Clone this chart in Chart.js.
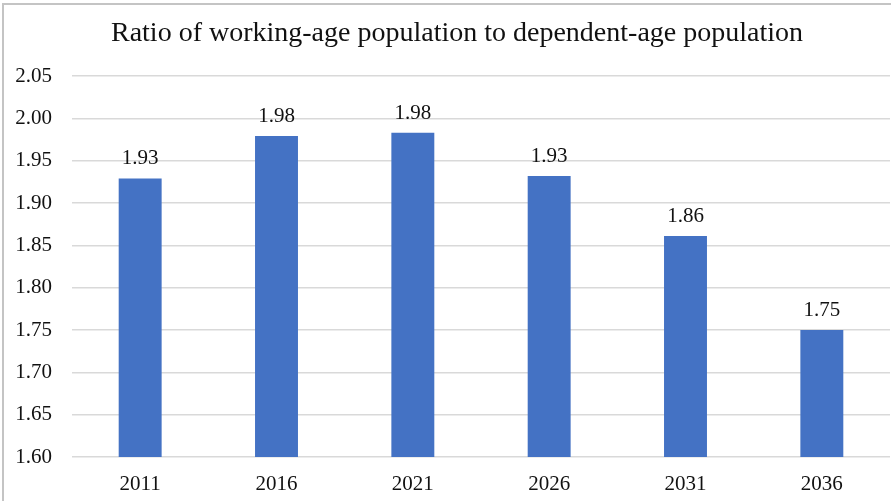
<!DOCTYPE html>
<html>
<head>
<meta charset="utf-8">
<script src="https://cdn.jsdelivr.net/npm/chart.js@4/dist/chart.umd.min.js"></script>
<style>
  html, body { margin: 0; padding: 0; background: #fff; }
  #wrap { width: 891px; height: 501px; position: relative; }
</style>
</head>
<body>
<div id="wrap"><canvas id="c" width="891" height="501"></canvas></div>
<script>
const categories = ['2011', '2016', '2021', '2026', '2031', '2036'];
const ratioValues = [1.929, 1.979, 1.983, 1.932, 1.861, 1.750];
const titleText = 'Ratio of working-age population to dependent-age population';

const SERIF = '"Liberation Serif", "Times New Roman", "DejaVu Serif", serif';

const frameAndLabels = {
  id: 'frameAndLabels',
  beforeDraw(chart) {
    const ctx = chart.ctx;
    ctx.save();
    ctx.fillStyle = '#ffffff';
    ctx.fillRect(0, 0, chart.width, chart.height);
    ctx.fillStyle = '#c4c4c4';
    ctx.fillRect(2, 3, chart.width - 2, 2);
    ctx.fillRect(2, 3, 2, chart.height - 3);
    // title
    ctx.font = '28px ' + SERIF;
    ctx.fillStyle = '#111111';
    ctx.textAlign = 'center';
    ctx.textBaseline = 'middle';
    ctx.fillText(titleText, 457, 34);
    ctx.restore();
  },
  afterDatasetsDraw(chart) {
    const ctx = chart.ctx;
    const meta = chart.getDatasetMeta(0);
    ctx.save();
    ctx.font = '21px ' + SERIF;
    ctx.fillStyle = '#111111';
    ctx.textAlign = 'center';
    ctx.textBaseline = 'alphabetic';
    meta.data.forEach((bar, i) => {
      const v = chart.data.datasets[0].data[i];
      ctx.fillText(v.toFixed(2), bar.x, bar.y - 14);
    });
    ctx.restore();
  }
};

new Chart(document.getElementById('c'), {
  type: 'bar',
  data: {
    labels: categories,
    datasets: [{
      data: ratioValues,
      backgroundColor: '#4472C4',
      borderWidth: 0,
      barPercentage: 1,
      categoryPercentage: 0.315
    }]
  },
  options: {
    responsive: false,
    animation: false,
    devicePixelRatio: 1,
    layout: { padding: { left: 0, right: 1, top: 76, bottom: 0 } },
    plugins: {
      legend: { display: false },
      tooltip: { enabled: false },
      title: { display: false }
    },
    scales: {
      x: {
        grid: { display: false, drawTicks: false },
        border: { display: false },
        ticks: { color: '#111111', font: { family: SERIF, size: 21 }, padding: 15 },
        afterFit(scale) { scale.height = 44; }
      },
      y: {
        min: 1.6,
        max: 2.05,
        grid: { color: '#d9d9d9', lineWidth: 1.5, drawTicks: false },
        border: { display: false },
        ticks: {
          stepSize: 0.05,
          color: '#111111',
          font: { family: SERIF, size: 21 },
          padding: 20,
          callback: (v) => Number(v).toFixed(2)
        },
        afterFit(scale) { scale.width = 72; }
      }
    }
  },
  plugins: [frameAndLabels]
});
</script>
</body>
</html>
